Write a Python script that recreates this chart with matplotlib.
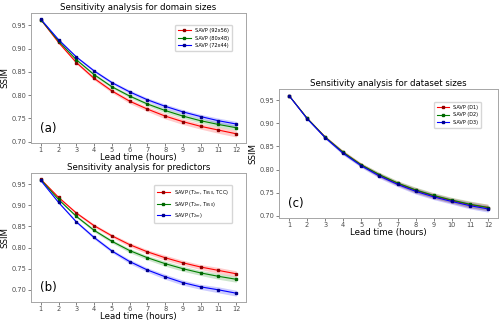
import matplotlib
matplotlib.use('Agg')
import matplotlib.pyplot as plt
import numpy as np

hours = np.arange(1, 13)

# (a) domain sizes
dom_labels = ['SAVP (92x56)', 'SAVP (80x48)', 'SAVP (72x44)']
dom_92 = [0.962, 0.913, 0.870, 0.836, 0.809, 0.787, 0.770, 0.755, 0.743, 0.733, 0.725, 0.717]
dom_80 = [0.962, 0.916, 0.876, 0.844, 0.818, 0.798, 0.781, 0.767, 0.755, 0.745, 0.737, 0.730]
dom_72 = [0.963, 0.919, 0.882, 0.852, 0.827, 0.807, 0.790, 0.776, 0.764, 0.754, 0.745, 0.738]

# (b) predictors
pred_labels = [r'SAVP ($T_{2m}$, $T_{850}$, TCC)', r'SAVP ($T_{2m}$, $T_{850}$)', r'SAVP ($T_{2m}$)']
pred_3 = [0.962, 0.919, 0.882, 0.852, 0.828, 0.807, 0.790, 0.776, 0.764, 0.754, 0.746, 0.738]
pred_2 = [0.961, 0.914, 0.874, 0.841, 0.815, 0.793, 0.776, 0.762, 0.750, 0.740, 0.732, 0.725]
pred_1 = [0.959, 0.907, 0.861, 0.824, 0.792, 0.767, 0.747, 0.731, 0.717, 0.707, 0.700, 0.692]

# (c) dataset sizes
ds_labels = ['SAVP (D1)', 'SAVP (D2)', 'SAVP (D3)']
ds_1 = [0.960, 0.911, 0.870, 0.837, 0.810, 0.788, 0.770, 0.755, 0.743, 0.733, 0.724, 0.718]
ds_2 = [0.960, 0.911, 0.870, 0.837, 0.810, 0.789, 0.771, 0.756, 0.744, 0.734, 0.725, 0.718]
ds_3 = [0.960, 0.910, 0.869, 0.835, 0.808, 0.786, 0.768, 0.753, 0.741, 0.731, 0.722, 0.715]

# band half-widths (spread over lead time)
spread = [0.001, 0.002, 0.003, 0.004, 0.004, 0.005, 0.005, 0.006, 0.006, 0.006, 0.007, 0.007]

colors = ['red', 'green', 'blue']
mcolors = ['darkred', 'darkgreen', 'darkblue']


def panel(ax, series, labels, title, tag, spreads, leg_anchor):
    for y, lab, c, mc, s in zip(series, labels, colors, mcolors, spreads):
        y = np.array(y)
        s = np.array(s)
        ax.plot(hours, y, color=c, lw=0.8, marker='s', ms=1.8, mfc=mc, mec=mc, label=lab)
        ax.fill_between(hours, y - s, y + s, color=c, alpha=0.2, lw=0)
    ax.set_xticks(hours)
    ax.set_yticks([0.70, 0.75, 0.80, 0.85, 0.90, 0.95])
    ax.tick_params(labelsize=4.8, length=2, colors='0.3', width=0.5, pad=1.2)
    for sp in ax.spines.values():
        sp.set_color('0.65')
        sp.set_linewidth(0.7)
    ax.set_title(title, fontsize=6.2, pad=2)
    ax.set_xlabel('Lead time (hours)', fontsize=6.2, labelpad=0)
    ax.set_ylabel('SSIM', fontsize=6.2, labelpad=2)
    ax.text(0.04, 0.085, tag, transform=ax.transAxes, fontsize=8.5)
    ax.legend(loc='upper right', fontsize=3.6, bbox_to_anchor=leg_anchor,
              handlelength=2.5, borderpad=0.6, labelspacing=0.5)


fig = plt.figure(figsize=(5, 3.22), dpi=100)
ax1 = fig.add_axes([0.062, 0.556, 0.43, 0.404])
ax2 = fig.add_axes([0.062, 0.062, 0.43, 0.401])
ax3 = fig.add_axes([0.558, 0.323, 0.438, 0.40])

panel(ax1, [dom_92, dom_80, dom_72], dom_labels, 'Sensitivity analysis for domain sizes', '(a)',
      [spread, np.array(spread) * 0.8, np.array(spread) * 0.8], (0.945, 0.925))
panel(ax2, [pred_3, pred_2, pred_1], pred_labels, 'Sensitivity analysis for predictors', '(b)',
      [spread, spread, spread], (0.945, 0.925))
panel(ax3, [ds_1, ds_2, ds_3], ds_labels, 'Sensitivity analysis for dataset sizes', '(c)',
      [spread, spread, spread], (0.935, 0.92))

fig.savefig('out.png', dpi=100)
